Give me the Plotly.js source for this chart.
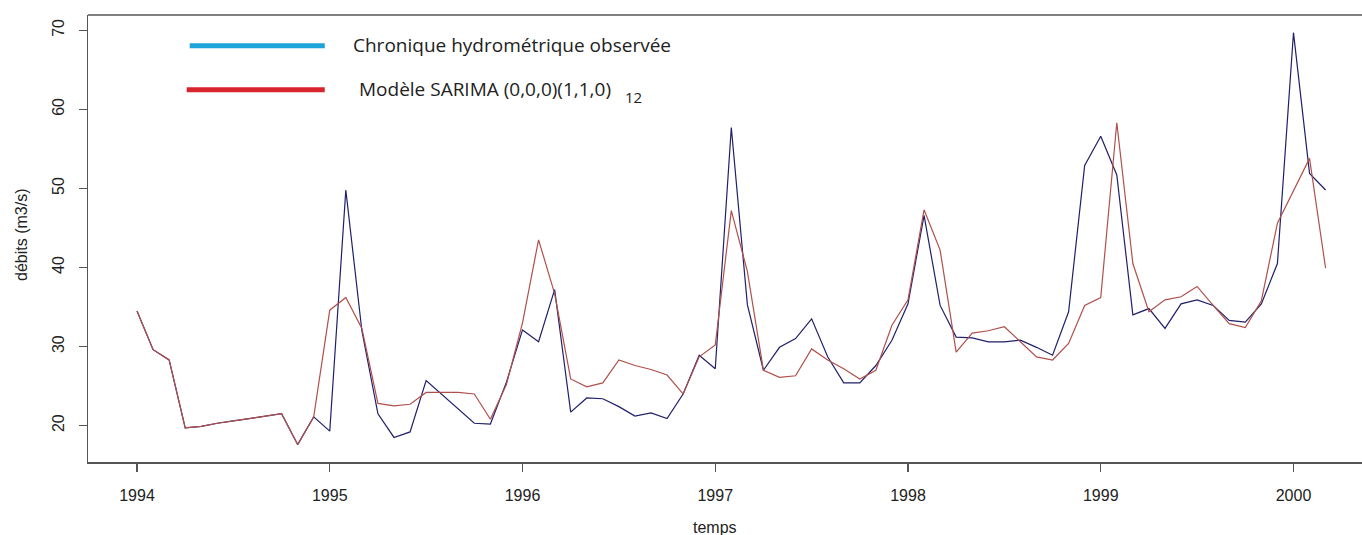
<!DOCTYPE html>
<html>
<head>
<meta charset="utf-8">
<script src="https://cdn.plot.ly/plotly-3.0.1.min.js"></script>
<style>
  html, body { margin: 0; padding: 0; background: #ffffff; }
  #chart { width: 1362px; height: 535px; }
</style>
</head>
<body>
<div id="chart"></div>
<script>
// ---- Data (monthly, starting January 1994) ----
const startYear = 1994;
const observed = [
  34.5, 29.6, 28.3, 19.7, 19.9, 20.3, 20.6, 20.9, 21.2, 21.5, 17.6, 21.1,
  19.3, 49.8, 32.0, 21.5, 18.5, 19.2, 25.7, 23.9, 22.1, 20.3, 20.2, 25.5,
  32.1, 30.6, 37.2, 21.7, 23.5, 23.4, 22.4, 21.2, 21.6, 20.9, 24.0, 28.9,
  27.2, 57.7, 35.3, 27.0, 29.9, 31.0, 33.5, 28.7, 25.4, 25.4, 27.6, 30.8,
  35.4, 46.6, 35.2, 31.2, 31.1, 30.6, 30.6, 30.8, 29.9, 28.9, 34.4, 52.9,
  56.6, 51.7, 34.0, 34.8, 32.3, 35.4, 35.9, 35.2, 33.3, 33.1, 35.4, 40.5,
  69.7, 51.9, 49.8
];
const sarima = [
  34.5, 29.6, 28.3, 19.7, 19.9, 20.3, 20.6, 20.9, 21.2, 21.5, 17.6, 21.1,
  34.6, 36.2, 32.3, 22.8, 22.5, 22.7, 24.2, 24.2, 24.2, 24.0, 20.8, 25.2,
  33.0, 43.5, 36.7, 25.9, 24.9, 25.4, 28.3, 27.6, 27.1, 26.4, 24.0, 28.7,
  30.2, 47.2, 39.5, 27.0, 26.1, 26.3, 29.7, 28.3, 27.2, 25.9, 27.0, 32.7,
  35.9, 47.3, 42.2, 29.3, 31.7, 32.0, 32.5, 30.6, 28.7, 28.3, 30.4, 35.2,
  36.2, 58.3, 40.5, 34.4, 35.9, 36.3, 37.6, 35.2, 32.9, 32.4, 35.8, 45.6,
  49.7, 53.8, 39.9
];
const xTickVals = [1994, 1995, 1996, 1997, 1998, 1999, 2000];
const xTickText = ["1994", "1995", "1996", "1997", "1998", "1999", "2000"];
const yTickVals = [20, 30, 40, 50, 60, 70];
const yTickText = ["20", "30", "40", "50", "60", "70"];
const legendLabels = ["Chronique hydrométrique observée", "Modèle SARIMA (0,0,0)(1,1,0)"];
const legendSubscript = "12";
const xTitle = "temps";
const yTitle = "débits (m3/s)";

const timeObs = observed.map((_, i) => startYear + i / 12);
const timeMod = sarima.map((_, i) => startYear + i / 12);

// ---- Pixel helpers for decorations ----
const W = 1362, H = 535;
const L = 88.3, R = 1362, T = 14.7, B = 461.7;
const px = x => (x - L) / (R - L);
const py = y => (B - y) / (B - T);

const traces = [
  { x: timeObs, y: observed, type: 'scatter', mode: 'lines',
    line: { color: '#1f1f6a', width: 1.2 }, hoverinfo: 'skip', showlegend: false },
  { x: timeMod, y: sarima, type: 'scatter', mode: 'lines',
    line: { color: '#b0504c', width: 1.2 }, hoverinfo: 'skip', showlegend: false }
];

const axisFont = { family: 'Liberation Sans, Arial, sans-serif', size: 16, color: '#222' };
const legFont = { family: 'Open Sans, sans-serif', size: 19, color: '#222' };
const subFont = { family: 'Open Sans, sans-serif', size: 15, color: '#222' };

const layout = {
  width: W, height: H,
  margin: { l: L, r: W - R, t: T, b: H - B, pad: 0 },
  paper_bgcolor: '#ffffff', plot_bgcolor: '#ffffff',
  showlegend: false,
  xaxis: {
    range: [1993.7457, 2000.3555], showgrid: false, zeroline: false,
    showline: true, linecolor: '#555', linewidth: 1.5,
    ticks: 'outside', ticklen: 8, tickcolor: '#555', tickwidth: 1.3,
    tickvals: xTickVals, ticktext: xTickText, tickfont: axisFont,
    ticklabelstandoff: 10
  },
  yaxis: {
    range: [15.396, 71.935], showgrid: false, zeroline: false,
    showline: true, linecolor: '#555', linewidth: 1.5,
    ticks: 'outside', ticklen: 8, tickcolor: '#555', tickwidth: 1.3,
    tickvals: yTickVals, ticktext: yTickText, tickfont: axisFont,
    tickangle: -90, ticklabelstandoff: 8
  },
  shapes: [
    { type: 'line', xref: 'paper', yref: 'paper', x0: 0, x1: 1, y0: 1, y1: 1,
      line: { color: '#555', width: 1.5 } },
    { type: 'line', xref: 'paper', yref: 'paper', x0: px(190), x1: px(325), y0: py(45.5), y1: py(45.5),
      line: { color: '#1ca3d9', width: 5 } },
    { type: 'line', xref: 'paper', yref: 'paper', x0: px(187), x1: px(325), y0: py(89.5), y1: py(89.5),
      line: { color: '#d8242c', width: 5 } }
  ],
  annotations: [
    { text: legendLabels[0], xref: 'paper', yref: 'paper', x: px(351.5), y: py(45),
      xanchor: 'left', yanchor: 'middle', showarrow: false, font: legFont },
    { text: legendLabels[1], xref: 'paper', yref: 'paper', x: px(357.5), y: py(89),
      xanchor: 'left', yanchor: 'middle', showarrow: false, font: legFont },
    { text: legendSubscript, xref: 'paper', yref: 'paper', x: px(623.5), y: py(97),
      xanchor: 'left', yanchor: 'middle', showarrow: false, font: subFont },
    { text: xTitle, xref: 'paper', yref: 'paper', x: px(715), y: py(527),
      xanchor: 'center', yanchor: 'middle', showarrow: false, font: axisFont },
    { text: yTitle, xref: 'paper', yref: 'paper', x: px(22), y: py(235),
      xanchor: 'center', yanchor: 'middle', showarrow: false, textangle: -90, font: axisFont }
  ]
};

Plotly.newPlot('chart', traces, layout, { staticPlot: true, displayModeBar: false });
</script>
</body>
</html>
